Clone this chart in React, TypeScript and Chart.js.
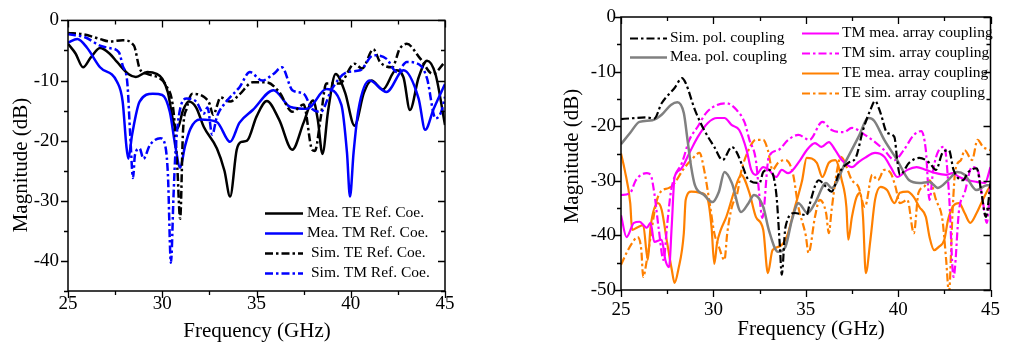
import { useEffect, useRef } from 'react';
import { Chart, registerables } from 'chart.js';

Chart.register(...registerables);

const FONT = '"Liberation Serif", "Times New Roman", serif';

type Pt = [number, number];

// ---- Reflection coefficients (left panel), [frequency GHz, magnitude dB] ----
const meaTeRef: Pt[] = [
  [25, -3.9], [25.4, -5.5], [25.8, -7.8], [26.2, -6.2], [26.7, -4.6], [27.2, -5.5], [27.6, -6.9], [28.2, -8.9],
  [28.6, -9.4], [29.2, -8.6], [29.7, -8.9], [30.0, -9.7], [30.3, -12], [30.6, -17], [30.8, -18], [31.1, -15],
  [31.4, -13.5], [31.8, -14.5], [32.2, -17.7], [32.9, -21.3], [33.3, -25], [33.6, -29.3], [33.95, -21.5],
  [34.2, -20.2], [34.5, -20], [35.0, -16], [35.55, -13.4], [36.2, -16.5], [36.9, -21.5], [37.5, -17],
  [38.0, -13.3], [38.25, -16.5], [38.5, -22.2], [38.8, -15], [39.2, -8.9], [39.7, -12], [40.2, -17.5],
  [40.7, -12], [41.1, -10], [41.7, -11.5], [42.4, -8.3], [42.8, -9.5], [43.14, -14.9], [43.6, -9.5],
  [44.05, -6.7], [44.5, -9], [45, -17.4],
];
const meaTmRef: Pt[] = [
  [25, -3.7], [25.5, -3.1], [26.0, -4.5], [26.7, -7.8], [27.6, -10.2], [27.9, -13.5], [28.1, -21], [28.2, -23],
  [28.4, -19], [28.8, -13.5], [29.5, -12.2], [30.0, -12.4], [30.4, -15.2], [30.7, -21], [30.95, -24.5],
  [31.2, -21], [31.5, -18], [32.0, -16.5], [32.9, -16.9], [33.6, -20.2], [34.1, -17], [34.8, -14.9],
  [35.9, -11.6], [36.8, -14.4], [37.7, -14.7], [38.7, -11.4], [39.5, -14], [39.8, -22], [39.96, -29.3],
  [40.15, -22], [40.4, -15], [41.0, -10], [41.9, -11.9], [42.8, -8.3], [43.6, -13], [43.95, -18.2],
  [44.4, -14.7], [45, -10.6],
];
const simTeRef: Pt[] = [
  [25, -2.1], [25.8, -2.3], [26.7, -3.1], [27.2, -3.5], [27.9, -3.3], [28.5, -4.2], [28.8, -8], [29.2, -8.9],
  [29.9, -9.7], [30.2, -10.8], [30.6, -15.2], [30.8, -24.5], [30.95, -33], [31.1, -18.5], [31.3, -14.6],
  [31.6, -12.2], [32.2, -12.7], [32.5, -13.8], [32.7, -15.7], [33.1, -12.8], [33.6, -13.5], [34.1, -12.3],
  [34.8, -10.3], [35.55, -10.3], [36.2, -11.9], [36.9, -15.2], [37.5, -14], [37.95, -21.5], [38.1, -21.7],
  [38.4, -16.3], [38.7, -10.5], [39.4, -10.5], [40.2, -7.2], [40.6, -8], [41.2, -4.8], [41.55, -6.9],
  [42.2, -7.8], [42.6, -4.7], [42.97, -3.9], [43.7, -6.4], [44.35, -8.9], [45, -6.9],
];
const simTmRef: Pt[] = [
  [25, -2.3], [25.9, -2.8], [26.7, -4.2], [27.2, -4.6], [27.7, -5.3], [27.9, -7.5], [28.15, -10.5], [28.3, -19],
  [28.45, -26.2], [28.55, -22.4], [28.8, -21.3], [29.0, -23], [29.35, -20.7], [29.9, -19.6], [30.15, -20.7],
  [30.3, -25.6], [30.46, -40.3], [30.6, -29], [30.7, -22], [30.95, -14.7], [31.3, -13], [31.8, -13.5],
  [32.2, -15.5], [32.4, -14.5], [32.65, -19], [32.9, -16], [33.4, -13.5], [34.1, -11.1], [34.65, -8.6],
  [35.3, -10], [35.9, -8.9], [36.35, -7.8], [36.9, -11.6], [37.5, -12.2], [37.95, -14.7], [38.4, -15.2],
  [39.0, -11.4], [39.8, -8.6], [40.5, -8.3], [41.2, -5.8], [41.9, -6.4], [42.45, -8.6], [42.97, -6.9],
  [43.7, -7.5], [44.05, -9.7], [44.5, -16.3], [44.8, -15.2], [45, -12.7],
];

// ---- Coupling (right panel), [frequency GHz, magnitude dB] ----
const simPolCoupling: Pt[] = [
  [25, -18.7], [26.4, -18.4], [26.8, -18.6], [27.2, -15.8], [27.9, -13], [28.3, -11.2], [28.5, -12.1], [29.0, -17],
  [29.5, -20.7], [30.05, -23.8], [30.5, -26.2], [31.0, -23.8], [31.25, -24.7], [31.6, -27.5], [31.9, -29.8],
  [32.5, -30.4], [32.7, -28.4], [33.0, -28], [33.4, -32.2], [33.6, -42], [33.7, -47.2], [33.9, -38.5],
  [34.4, -35.9], [35.05, -36.3], [35.2, -34.4], [35.7, -29.9], [36.1, -31.1], [36.4, -32], [36.8, -28.6],
  [37.3, -26.7], [37.7, -25.8], [38.1, -20.7], [38.5, -17], [38.75, -15.4], [39.05, -17.6], [39.4, -21.2],
  [39.8, -22], [39.95, -26.2], [40.1, -28.9], [40.6, -26.7], [41.15, -25.8], [41.7, -26.7], [42.05, -28],
  [42.4, -24.9], [42.75, -24.4], [43.0, -28], [43.5, -29.9], [43.8, -28.4], [44.25, -27.7], [44.5, -32],
  [44.75, -36.6], [45, -30.4],
];
const meaPolCoupling: Pt[] = [
  [25, -23.3], [25.5, -21.2], [26, -19.2], [26.7, -18.9], [27.2, -17.9], [27.7, -16.1], [28.05, -15.6],
  [28.4, -17.6], [28.6, -22.5], [28.8, -27.5], [29.0, -30.8], [29.5, -32.6], [29.95, -33.9], [30.3, -32],
  [30.6, -28.4], [31.0, -30.4], [31.5, -35.7], [31.9, -34.1], [32.2, -32.6], [32.7, -34.8], [33.0, -39],
  [33.5, -43], [33.9, -42.1], [34.25, -37.2], [34.6, -34.1], [35.1, -35.9], [35.5, -34.1], [36.1, -30.4],
  [36.4, -31.3], [37.2, -26.2], [37.85, -22], [38.4, -18.5], [38.7, -19], [39.25, -22.5], [39.95, -26.2],
  [40.6, -29.9], [41.15, -30.4], [41.7, -30.2], [42.15, -31.3], [42.7, -29.9], [43.2, -28.4], [43.6, -28.9],
  [44.25, -31.7], [44.8, -30.8], [45, -30.8],
];
const tmMeaCoupling: Pt[] = [
  [25, -36.3], [25.3, -40.3], [25.7, -37.7], [26.0, -37.5], [26.4, -38.6], [26.6, -37.7], [26.8, -41.2],
  [27.2, -40.8], [27.4, -44.5], [27.6, -45.8], [27.75, -38], [27.9, -29.3], [28.2, -28], [28.7, -24.9],
  [29.15, -22], [29.7, -19.4], [30.2, -18.5], [30.6, -18.5], [31.0, -19.8], [31.4, -20.7], [31.8, -24.4],
  [32.05, -28], [32.3, -28.9], [32.7, -27.5], [33.0, -28], [33.4, -29.3], [33.7, -28], [34.05, -28.6],
  [34.7, -26.2], [35.05, -24.4], [35.5, -23.1], [35.85, -23.8], [36.25, -22.9], [36.6, -24.4], [36.95, -26.2],
  [37.5, -27.5], [37.85, -26.6], [38.2, -25.8], [38.75, -24.9], [39.25, -25.6], [39.6, -27.5], [39.95, -29.3],
  [40.5, -28], [41.0, -27.5], [41.5, -28], [42.05, -28.6], [42.6, -28.9], [42.95, -28.6], [43.3, -29.3],
  [43.8, -29.9], [44.25, -30.2], [44.7, -30.4], [45, -27.5],
];
const tmSimCoupling: Pt[] = [
  [25, -32.6], [25.5, -32.2], [25.8, -29.9], [26.4, -28.6], [26.6, -28.9], [26.8, -32.2], [27.05, -39],
  [27.3, -44.5], [27.5, -38], [27.7, -32], [27.9, -29.3], [28.3, -26.7], [28.7, -22.5], [29.15, -20.1],
  [29.6, -17.6], [30.2, -16.1], [30.7, -15.8], [31.25, -17], [31.7, -19.4], [31.95, -22.5], [32.3, -26.2],
  [32.5, -33], [32.65, -36.8], [33.0, -25.6], [33.5, -24.4], [34.05, -22.5], [34.6, -21.6], [35.2, -22.5],
  [35.9, -19.2], [36.4, -20.7], [37.05, -21.1], [37.5, -20.3], [38.2, -21.6], [38.75, -22.9], [39.25, -24.4],
  [39.8, -26.2], [40.3, -24.4], [40.85, -21.6], [41.25, -20.9], [41.5, -24.4], [41.7, -33.5], [41.9, -28],
  [42.2, -24.4], [42.5, -23.8], [42.75, -32.2], [43.0, -47.6], [43.3, -35.3], [43.6, -32.2], [44.0, -27.5],
  [44.3, -28], [44.6, -34.1], [44.8, -37.7], [45, -29.9],
];
const teMeaCoupling: Pt[] = [
  [25, -25], [25.2, -28], [25.5, -34.1], [25.6, -39], [25.9, -38.5], [26.2, -38.1], [26.45, -44.5], [26.6, -38.5],
  [27.0, -34.1], [27.2, -35.3], [27.5, -41.4], [27.75, -46.3], [27.9, -48.7], [28.1, -46.3], [28.4, -39.6],
  [28.5, -33.5], [28.8, -32], [29.3, -32.2], [29.7, -33.5], [29.9, -38.5], [30.05, -45.2], [30.2, -41.4],
  [30.4, -39], [30.7, -36.6], [31.15, -31.7], [31.5, -28.9], [31.95, -32.2], [32.3, -36.6], [32.7, -39],
  [32.95, -46.9], [33.2, -42.7], [33.6, -42], [34.0, -40], [34.4, -35], [34.8, -30], [35.05, -25.8],
  [35.6, -26.7], [35.9, -29.3], [36.25, -26.7], [36.6, -26.2], [36.95, -29.9], [37.2, -34.8], [37.3, -40.8],
  [37.5, -36.6], [37.75, -33], [37.95, -32.2], [38.1, -36.6], [38.25, -46.9], [38.5, -40.8], [38.75, -33.5],
  [39.05, -31.1], [39.4, -31.7], [39.8, -34.1], [40.1, -32.2], [40.5, -32], [40.85, -33], [41.15, -34.8],
  [41.5, -36.6], [41.7, -40.3], [41.95, -42.7], [42.2, -42.1], [42.5, -40.8], [42.7, -37.2], [42.95, -34.8],
  [43.3, -34.1], [43.6, -35.9], [43.9, -37.7], [44.25, -35.9], [44.5, -34.1], [44.85, -31.7], [45, -30.8],
];
const teSimCoupling: Pt[] = [
  [25, -45.4], [25.3, -43.2], [25.6, -41.4], [25.9, -40.3], [26.1, -42.7], [26.2, -47.6], [26.4, -44.5],
  [26.6, -40.3], [26.9, -34.1], [27.15, -32], [27.6, -31.3], [27.9, -30.4], [28.35, -28], [28.8, -26.2],
  [29.25, -24.9], [29.5, -28], [29.8, -34.1], [30.05, -39.6], [30.3, -42.1], [30.6, -44.5], [30.75, -39.6],
  [31.0, -34.8], [31.3, -32.2], [31.5, -28.4], [31.9, -24.4], [32.3, -22.5], [32.7, -22.5], [32.95, -24.4],
  [33.2, -28], [33.5, -26.7], [33.9, -26.2], [34.3, -28.6], [34.6, -34.8], [35.0, -40], [35.15, -43.2],
  [35.5, -36.6], [35.75, -33.5], [36.1, -35.9], [36.25, -39.6], [36.4, -35.3], [36.7, -28], [36.9, -25.6],
  [37.5, -29.9], [37.85, -31.1], [38.2, -34.8], [38.6, -28.9], [38.9, -29.9], [39.25, -28], [39.6, -28.6],
  [39.85, -31], [40.1, -34.1], [40.5, -33.5], [40.85, -39.6], [41.1, -32.2], [41.4, -31.1], [41.7, -29.9],
  [42.05, -33.5], [42.4, -37.2], [42.6, -44.5], [42.75, -50.5], [42.95, -35.3], [43.1, -28], [43.4, -26.2],
  [43.6, -24.4], [44.0, -26.2], [44.3, -22.5], [44.6, -23.8], [45, -24.4],
];

const X_TITLE = 'Frequency (GHz)';
const Y_TITLE = 'Magnitude (dB)';

const BLACK = '#000000';
const BLUE = '#0000ff';
const GRAY = '#808080';
const MAGENTA = '#ff00ff';
const ORANGE = '#ff8000';

const toPoints = (pts: Pt[]) => pts.map(([x, y]) => ({ x, y }));

// Draws the box frame plus tick marks: outward on bottom/left, inward on top/right.
const framePlugin = {
  id: 'frame',
  afterDatasetsDraw(chart: any, _args: any, opts: any) {
    const { ctx, chartArea: a, scales } = chart;
    const xs = scales.x;
    const ys = scales.y;
    ctx.save();
    ctx.strokeStyle = '#000';
    ctx.lineWidth = 1.5;
    ctx.strokeRect(a.left, a.top, a.right - a.left, a.bottom - a.top);
    ctx.lineWidth = 1.3;
    ctx.beginPath();
    for (let v = xs.min; v <= xs.max + 1e-9; v += opts.xStep) {
      const px = Math.round(xs.getPixelForValue(v)) + 0.5;
      const major = Math.abs(v / opts.xMajor - Math.round(v / opts.xMajor)) < 1e-6;
      const len = major ? 7 : 4;
      ctx.moveTo(px, a.bottom);
      ctx.lineTo(px, a.bottom + len);
      ctx.moveTo(px, a.top);
      ctx.lineTo(px, a.top + len);
    }
    for (let v = ys.min; v <= ys.max + 1e-9; v += opts.yStep) {
      const py = Math.round(ys.getPixelForValue(v)) + 0.5;
      const major = Math.abs(v / opts.yMajor - Math.round(v / opts.yMajor)) < 1e-6;
      const len = major ? 7 : 4;
      ctx.moveTo(a.left - len, py);
      ctx.lineTo(a.left, py);
      ctx.moveTo(a.right - len, py);
      ctx.lineTo(a.right, py);
    }
    ctx.stroke();
    ctx.restore();
  },
};

// Axis titles and in-plot legend entries (each entry uses its dataset's line style).
const keyPlugin = {
  id: 'key',
  afterDraw(chart: any, _args: any, opts: any) {
    const { ctx } = chart;
    ctx.save();
    ctx.fillStyle = '#000';
    ctx.textAlign = 'center';
    ctx.textBaseline = 'middle';
    ctx.font = `${opts.titleSize}px ${FONT}`;
    ctx.fillText(X_TITLE, opts.xTitle.x, opts.xTitle.y);
    ctx.save();
    ctx.translate(opts.yTitle.x, opts.yTitle.y);
    ctx.rotate(-Math.PI / 2);
    ctx.fillText(Y_TITLE, 0, 0);
    ctx.restore();

    ctx.font = `${opts.fontSize}px ${FONT}`;
    ctx.textAlign = 'left';
    for (const it of opts.items) {
      const ds = chart.data.datasets[it.ds];
      ctx.strokeStyle = ds.borderColor;
      ctx.lineWidth = ds.borderWidth;
      ctx.setLineDash(ds.borderDash || []);
      ctx.beginPath();
      ctx.moveTo(it.x1, it.y + 0.5);
      ctx.lineTo(it.x2, it.y + 0.5);
      ctx.stroke();
      ctx.setLineDash([]);
      ctx.fillStyle = '#000';
      ctx.fillText(ds.label, it.tx, it.y);
    }
    ctx.restore();
  },
};

function lineSet(label: string, pts: Pt[], color: string, width: number, dashed: boolean, order: number) {
  return {
    label,
    data: toPoints(pts),
    borderColor: color,
    backgroundColor: color,
    borderWidth: width,
    borderDash: dashed ? [8, 3, 2.5, 3] : [],
    pointRadius: 0,
    fill: false,
    tension: 0.4,
    cubicInterpolationMode: 'monotone',
    order,
  };
}

function makeOptions(p: {
  padLeft: number; padTop: number; padRight: number;
  yWidth: number; xHeight: number; yMin: number; yPad: number; xPad: number;
  xTitle: { x: number; y: number }; yTitle: { x: number; y: number };
  keyItems: any[];
}) {
  return {
    responsive: false,
    animation: false,
    devicePixelRatio: 1,
    layout: { padding: { left: p.padLeft, top: p.padTop, right: p.padRight, bottom: 0 } },
    plugins: {
      legend: { display: false },
      tooltip: { enabled: false },
      frame: { xStep: 2.5, xMajor: 5, yStep: 5, yMajor: 10 },
      key: { fontSize: 15.5, titleSize: 21, xTitle: p.xTitle, yTitle: p.yTitle, items: p.keyItems },
    },
    scales: {
      x: {
        type: 'linear',
        min: 25,
        max: 45,
        grid: { display: false, drawTicks: false, tickLength: 0 },
        border: { display: false },
        afterFit: (s: any) => { s.height = p.xHeight; },
        ticks: {
          stepSize: 2.5,
          autoSkip: false,
          maxRotation: 0,
          padding: p.xPad,
          color: '#000',
          font: { family: FONT, size: 19 },
          callback: (v: any) => (Number(v) % 5 === 0 ? String(v) : ''),
        },
        title: { display: false },
      },
      y: {
        type: 'linear',
        min: p.yMin,
        max: 0,
        grid: { display: false, drawTicks: false, tickLength: 0 },
        border: { display: false },
        afterFit: (s: any) => { s.width = p.yWidth; },
        ticks: {
          stepSize: 5,
          autoSkip: false,
          padding: p.yPad,
          color: '#000',
          font: { family: FONT, size: 19 },
          callback: (v: any) => (Number(v) % 10 === 0 ? String(v) : ''),
        },
        title: { display: false },
      },
    },
  };
}

function ReflectionChart() {
  const ref = useRef<HTMLCanvasElement | null>(null);
  useEffect(() => {
    if (!ref.current) return;
    const w = 2.5;
    const chart = new Chart(ref.current, {
      type: 'line',
      data: {
        datasets: [
          lineSet('Mea. TE Ref. Coe.', meaTeRef, BLACK, w, false, 4),
          lineSet('Mea. TM Ref. Coe.', meaTmRef, BLUE, w, false, 3),
          lineSet('Sim. TE Ref. Coe.', simTeRef, BLACK, w, true, 2),
          lineSet('Sim. TM Ref. Coe.', simTmRef, BLUE, w, true, 1),
        ],
      } as any,
      options: makeOptions({
        padLeft: 8, padTop: 18, padRight: 60, yWidth: 60, xHeight: 51, yMin: -45, yPad: 9, xPad: 2,
        xTitle: { x: 257, y: 331 },
        yTitle: { x: 21, y: 165 },
        keyItems: [
          { ds: 0, x1: 265, x2: 303, tx: 307, y: 213 },
          { ds: 1, x1: 265, x2: 303, tx: 307, y: 233 },
          { ds: 2, x1: 265, x2: 303, tx: 311, y: 253 },
          { ds: 3, x1: 265, x2: 303, tx: 311, y: 273 },
        ],
      }) as any,
      plugins: [framePlugin, keyPlugin],
    });
    return () => chart.destroy();
  }, []);
  return <canvas ref={ref} width={505} height={342} style={{ display: 'block' }} />;
}

function CouplingChart() {
  const ref = useRef<HTMLCanvasElement | null>(null);
  useEffect(() => {
    if (!ref.current) return;
    const w = 2.2;
    const chart = new Chart(ref.current, {
      type: 'line',
      data: {
        datasets: [
          lineSet('Sim. pol. coupling', simPolCoupling, BLACK, w, true, 1),
          lineSet('Mea. pol. coupling', meaPolCoupling, GRAY, w + 0.3, false, 2),
          lineSet('TM mea. array coupling', tmMeaCoupling, MAGENTA, w, false, 4),
          lineSet('TM sim. array coupling', tmSimCoupling, MAGENTA, w, true, 3),
          lineSet('TE mea. array coupling', teMeaCoupling, ORANGE, w, false, 6),
          lineSet('TE sim. array coupling', teSimCoupling, ORANGE, w, true, 5),
        ],
      } as any,
      options: makeOptions({
        padLeft: 53, padTop: 17, padRight: 8, yWidth: 63, xHeight: 52, yMin: -50, yPad: 5, xPad: 9,
        xTitle: { x: 306, y: 329 },
        yTitle: { x: 67, y: 156 },
        keyItems: [
          { ds: 0, x1: 125, x2: 162, tx: 165, y: 38 },
          { ds: 1, x1: 125, x2: 162, tx: 165, y: 57 },
          { ds: 2, x1: 297, x2: 334, tx: 337, y: 33 },
          { ds: 3, x1: 297, x2: 334, tx: 337, y: 53 },
          { ds: 4, x1: 297, x2: 334, tx: 337, y: 73 },
          { ds: 5, x1: 297, x2: 334, tx: 337, y: 93 },
        ],
      }) as any,
      plugins: [framePlugin, keyPlugin],
    });
    return () => chart.destroy();
  }, []);
  return <canvas ref={ref} width={504} height={342} style={{ display: 'block' }} />;
}

export default function App() {
  return (
    <div
      style={{
        position: 'fixed',
        left: 0,
        top: 0,
        width: 1009,
        height: 342,
        background: '#fff',
        display: 'flex',
        flexDirection: 'row',
      }}
    >
      <ReflectionChart />
      <CouplingChart />
    </div>
  );
}
